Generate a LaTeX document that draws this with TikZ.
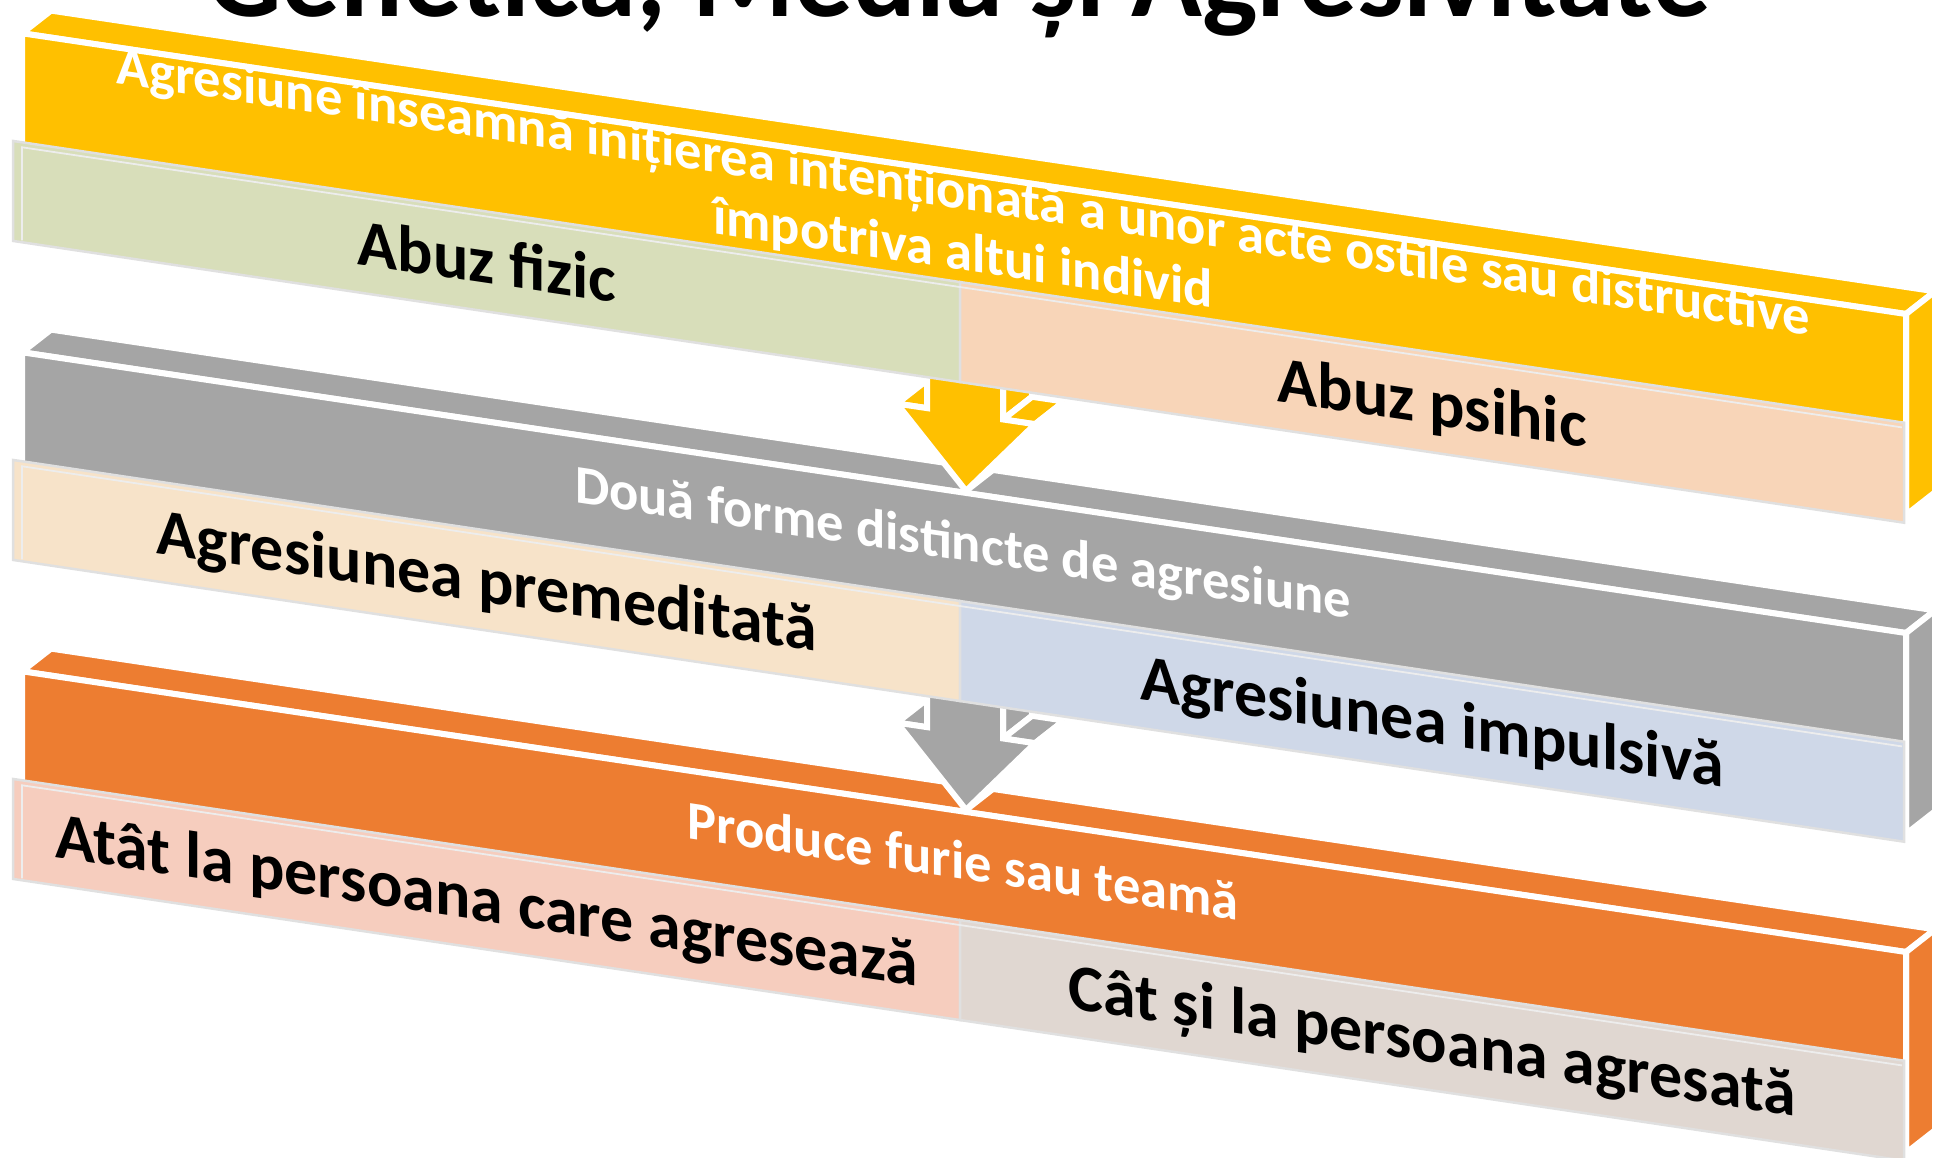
\documentclass[tikz,border=0pt]{standalone}
\usepackage{fontspec}
\setmainfont{Carlito}
\definecolor{yel}{HTML}{FFC000}
\definecolor{gry}{HTML}{A5A5A5}
\definecolor{org}{HTML}{ED7D31}
\definecolor{bgreen}{HTML}{D8DEBA}
\definecolor{bpeach}{HTML}{F8D5B8}
\definecolor{bbeige}{HTML}{F7E3C9}
\definecolor{bblue}{HTML}{CFD8E8}
\definecolor{bsalmon}{HTML}{F6CDBE}
\definecolor{brose}{HTML}{E0D7D1}
\tikzset{
  face/.style={draw=white, line width=6pt, line join=miter},
  subbox/.style={draw=black!12, line width=2.5pt},
  bevel/.style={draw=black!7, line width=1.8pt},
  bandtxt/.style={text=white, font=\bfseries\fontsize{54.5pt}{61pt}\selectfont, inner sep=0pt, anchor=base},
  boxtxt/.style={text=black, font=\bfseries\fontsize{66pt}{70pt}\selectfont, inner sep=0pt, anchor=base},
  titletxt/.style={text=black, font=\bfseries\fontsize{117pt}{120pt}\selectfont, inner sep=0pt, anchor=base}
}
% band: #1 = top of front face, #2 = colour
\newcommand\drawband[2]{%
  \filldraw[face, fill=#2] (22,#1) -- (1906,#1) -- (1935,{#1-27}) -- (51,{#1-27}) -- cycle;
  \filldraw[face, fill=#2] (1906,#1) -- (1935,{#1-27}) -- (1935,{#1+174}) -- (1906,{#1+201}) -- cycle;
  \filldraw[face, fill=#2] (22,#1) rectangle (1906,{#1+201});
}
% 3D block arrow below band with top #1
\newcommand\drawarrow[2]{%
  \begin{scope}[shift={(29,-27)}]
    \filldraw[face, fill=#2] (927,{#1+195}) -- (927,{#1+240}) -- (897,{#1+240}) -- (966,{#1+317}) -- (1035,{#1+240}) -- (1003,{#1+240}) -- (1003,{#1+195}) -- cycle;
  \end{scope}
  \filldraw[face, fill=#2] (1003,{#1+195}) -- (1003,{#1+240}) -- (1032,{#1+213}) -- (1032,{#1+168}) -- cycle;
  \filldraw[face, fill=#2] (897,{#1+240}) -- (927,{#1+240}) -- (956,{#1+213}) -- (926,{#1+213}) -- cycle;
  \filldraw[face, fill=#2] (1003,{#1+240}) -- (1035,{#1+240}) -- (1064,{#1+213}) -- (1032,{#1+213}) -- cycle;
  \filldraw[face, fill=#2] (1035,{#1+240}) -- (966,{#1+317}) -- (995,{#1+290}) -- (1064,{#1+213}) -- cycle;
  \filldraw[face, fill=#2] (927,{#1+195}) -- (927,{#1+240}) -- (897,{#1+240}) -- (966,{#1+317}) -- (1035,{#1+240}) -- (1003,{#1+240}) -- (1003,{#1+195}) -- cycle;
}
% sub boxes: #1 band top, #2 left colour, #3 right colour
\newcommand\drawboxes[3]{%
  \filldraw[subbox, fill=#2] (13,{#1+109}) rectangle (960,{#1+209});
  \filldraw[subbox, fill=#3] (960,{#1+109}) rectangle (1904,{#1+209});
  \draw[bevel] (22,{#1+207}) -- (22,{#1+114}) -- (1902,{#1+114});
}
\begin{document}
\begin{tikzpicture}[x=1pt,y=-1pt]
\useasboundingbox (0,0) rectangle (1934,1158);
\clip (0,0) rectangle (1934,1158);
\node[titletxt] (title) at (959,17) {Genetica, Media și Agresivitate};
\begin{scope}[yslant=-0.149, transform shape]
  \drawband{668}{org}
  \drawband{349}{gry}
  \drawband{30}{yel}
  \drawarrow{30}{yel}
  \drawarrow{349}{gry}
  \drawboxes{30}{bgreen}{bpeach}
  \drawboxes{349}{bbeige}{bblue}
  \drawboxes{668}{bsalmon}{brose}
  \node[bandtxt] (d1a) at (963,66) {Agresiune înseamnă inițierea intenționată a unor acte ostile sau distructive};
  \node[bandtxt] (d1b) at (963,127) {împotriva altui individ};
  \node[bandtxt] (d2) at (963,417) {Două forme distincte de agresiune};
  \node[bandtxt] (d3) at (963,736) {Produce furie sau teamă};
  \node[boxtxt] (b1l) at (487,211) {Abuz fizic};
  \node[boxtxt] (b1r) at (1432,211) {Abuz psihic};
  \node[boxtxt] (b2l) at (487,530) {Agresiunea premeditată};
  \node[boxtxt] (b2r) at (1432,530) {Agresiunea impulsivă};
  \node[boxtxt] (b3l) at (487,849) {Atât la persoana care agresează};
  \node[boxtxt] (b3r) at (1432,849) {Cât și la persoana agresată};
\end{scope}
\end{tikzpicture}
\end{document}
